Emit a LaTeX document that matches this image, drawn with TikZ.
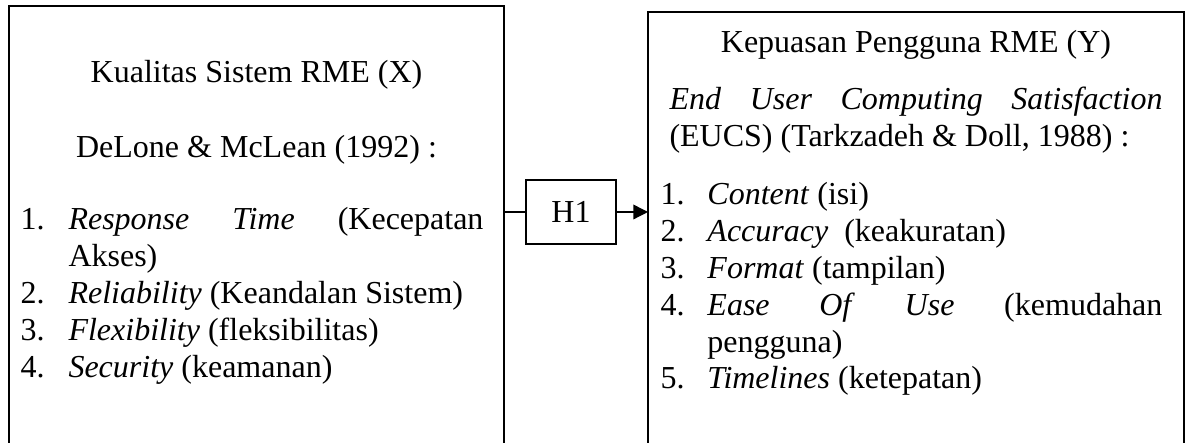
\documentclass[tikz,border=0pt]{standalone}
\usepackage{fontspec}
\setmainfont{Liberation Serif}
\usepackage{array}
\usetikzlibrary{
    arrows.meta,
    positioning
}
\tikzset{%
   panel/.style={
      inner sep=0mm,
      outer sep=0mm,
      minimum height=176pt
   },
   hyp/.style={
      draw,
      line width=.8pt,
      inner sep=0mm,
      minimum width=33.75pt,
      minimum height=24pt,
      font=\fontsize{12pt}{13.8pt}\selectfont
   },
   txt/.style={
      inner sep=0mm,
      font=\fontsize{12pt}{13.8pt}\selectfont
   },
   side/.style={
      line width=.75pt
   },
   conn/.style={
      line width=.5pt
   },
   arr/.style={
      line width=.5pt,
      -{Triangle[length=5.5pt,width=5.5pt]}
   },
}

\begin{document}
\begin{tikzpicture}[x=.375pt, y=-.375pt]
      \useasboundingbox (0,0) rectangle (1188,443);
      % the two open boxes
      \node[panel, minimum width=185.6pt, anchor=north west] (X) at (9,6.5) {};
      \node[panel, minimum width=201pt, anchor=north west] (Y) at (648,12.5) {};
      \draw[side] (X.south west) -- (X.north west) -- (X.north east) -- (X.south east);
      \draw[side] (Y.south west) -- (Y.north west) -- (Y.north east) -- (Y.south east);
      % left box
      \node[txt, anchor=base] (Xt) at (256.5,83) {Kualitas Sistem RME (X)};
      \node[txt, anchor=base] (Xs) at (256.5,158) {DeLone \& McLean (1992) :};
      \node[txt, anchor=base west] (Xl) at (20,230) {%
         \begin{tabular}[t]{@{}p{18pt}@{}p{155.6pt}@{}}
         1. & \textit{Response}\hfill\textit{Time}\hfill(Kecepatan\newline Akses)\\
         2. & \textit{Reliability} (Keandalan Sistem)\\
         3. & \textit{Flexibility} (fleksibilitas)\\
         4. & \textit{Security} (keamanan)
         \end{tabular}};
      % right box
      \node[txt, anchor=base] (Yt) at (916,53) {Kepuasan Pengguna RME (Y)};
      \node[txt, anchor=base west] (Ys) at (669,110) {%
         \begin{tabular}[t]{@{}p{184.9pt}@{}}
         \textit{End}\hfill\textit{User}\hfill\textit{Computing}\hfill\textit{Satisfaction}\newline
         (EUCS) (Tarkzadeh \& Doll, 1988) :
         \end{tabular}};
      \node[txt, anchor=base west] (Yl) at (660,205) {%
         \begin{tabular}[t]{@{}p{17.6pt}@{}p{170.6pt}@{}}
         1. & \textit{Content} (isi)\\
         2. & \textit{Accuracy}\ \ (keakuratan)\\
         3. & \textit{Format} (tampilan)\\
         4. & \textit{Ease}\hfill\textit{Of}\hfill\textit{Use}\hfill(kemudahan\newline pengguna)\\
         5. & \textit{Timelines} (ketepatan)
         \end{tabular}};
      % hypothesis
      \node[hyp] (H1) at (571,212) {H1};
      \draw[conn] (H1.west -| X.east) -- (H1.west);
      \draw[arr] (H1.east) -- (H1.east -| Y.west);
\end{tikzpicture}
\end{document}
